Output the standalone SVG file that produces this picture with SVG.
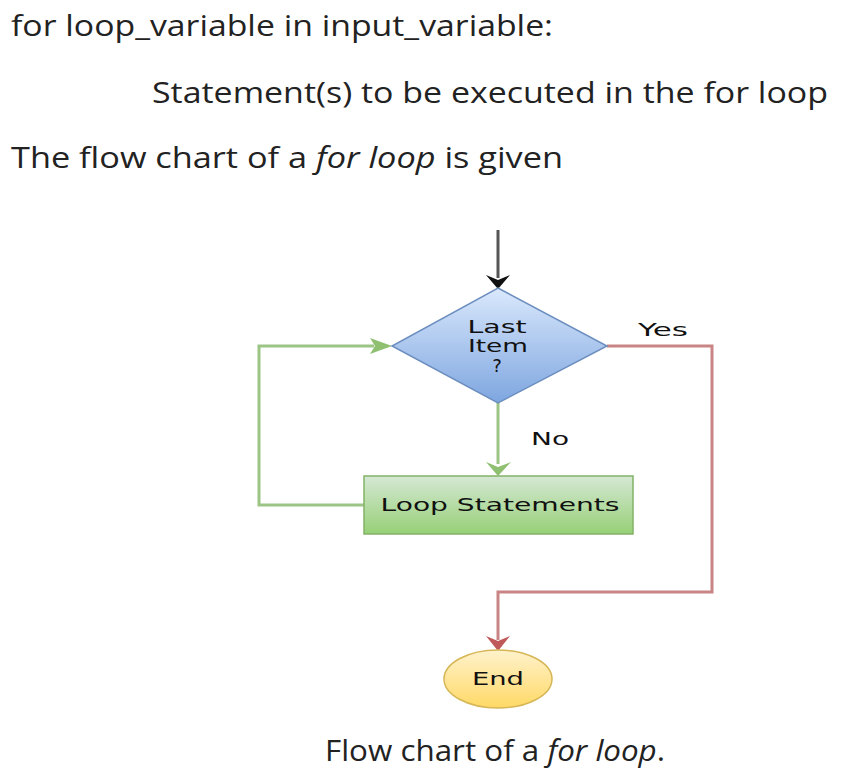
<svg xmlns="http://www.w3.org/2000/svg" width="857" height="776" viewBox="0 0 857 776">
<defs>
<linearGradient id="gBlue" x1="0" y1="0" x2="0" y2="1"><stop offset="0" stop-color="#dae8fc"/><stop offset="1" stop-color="#7ea6e0"/></linearGradient>
<linearGradient id="gGreen" x1="0" y1="0" x2="0" y2="1"><stop offset="0" stop-color="#d5e8d4"/><stop offset="1" stop-color="#97d077"/></linearGradient>
<linearGradient id="gYellow" x1="0" y1="0" x2="0" y2="1"><stop offset="0" stop-color="#fff2cc"/><stop offset="1" stop-color="#ffd966"/></linearGradient>
<style>
.prose{font-family:"Open Sans","Liberation Sans",sans-serif;font-size:29px;fill:#222;}
.lbl{font-family:"DejaVu Sans","Liberation Sans",sans-serif;font-size:18px;fill:#111;text-anchor:middle;}
.green{stroke:#9cc585;stroke-width:3;fill:none;}
.red{stroke:#c98585;stroke-width:3;fill:none;}
</style>
</defs>
<rect width="857" height="776" fill="#fff"/>
<text class="prose" x="11" y="36" textLength="542" lengthAdjust="spacingAndGlyphs">for loop_variable in input_variable:</text>
<text class="prose" x="152" y="103" textLength="676" lengthAdjust="spacingAndGlyphs">Statement(s) to be executed in the for loop</text>
<text class="prose" x="11" y="168" textLength="552" lengthAdjust="spacingAndGlyphs">The flow chart of a <tspan font-style="italic">for loop</tspan> is given</text>
<text class="prose" x="325" y="761" textLength="340" lengthAdjust="spacingAndGlyphs">Flow chart of a <tspan font-style="italic">for loop</tspan>.</text>

<g id="connectors">
<line x1="498" y1="230" x2="498" y2="278" stroke="#555" stroke-width="3"/>
<polygon points="486,275 498,280 510,275 498,289" fill="#111"/>
<polyline class="red" points="607,346 712,346 712,592 498,592 498,640"/>
<polygon points="486,636 498,641 510,636 498,651" fill="#c05a5a"/>
<line class="green" x1="498" y1="403" x2="498" y2="464"/>
<polygon points="486,462 498,467 511,462 498,476" fill="#8fbf70"/>
<polyline class="green" points="364,505 259,505 259,346 374,346"/>
<polygon points="370,338 375,346 370,354 392,346" fill="#8fbf70"/>
<text class="lbl" x="663" y="336" textLength="50" lengthAdjust="spacingAndGlyphs">Yes</text>
<text class="lbl" x="550" y="445" textLength="38" lengthAdjust="spacingAndGlyphs">No</text>
</g>

<g id="decision">
<polygon points="498,288 607,346 498,403 392,346" fill="url(#gBlue)" stroke="#6c8ebf" stroke-width="1.5"/>
<text class="lbl" x="497" y="333" textLength="59" lengthAdjust="spacingAndGlyphs">Last</text>
<text class="lbl" x="498" y="352" textLength="60" lengthAdjust="spacingAndGlyphs">Item</text>
<text class="lbl" x="497" y="372">?</text>
</g>

<g id="loop">
<rect x="364" y="476" width="269" height="58" fill="url(#gGreen)" stroke="#82b366" stroke-width="1.5"/>
<text class="lbl" x="500" y="511" textLength="239" lengthAdjust="spacingAndGlyphs">Loop Statements</text>
</g>

<g id="end">
<ellipse cx="498" cy="679" rx="54" ry="29" fill="url(#gYellow)" stroke="#d6b656" stroke-width="1.5"/>
<text class="lbl" x="498" y="685" textLength="52" lengthAdjust="spacingAndGlyphs">End</text>
</g>
</svg>
